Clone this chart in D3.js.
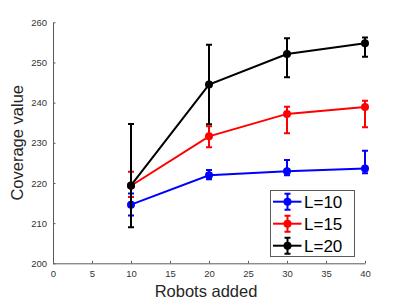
<!DOCTYPE html>
<html>
<head>
<meta charset="utf-8">
<script src="https://cdn.jsdelivr.net/npm/d3@7"></script>
<style>
  body { margin: 0; background: #fff; }
  svg { display: block; font-family: "Liberation Sans", Arial, sans-serif; }
</style>
</head>
<body>
<svg id="chart" width="403" height="302"></svg>
<script>
const robots = [10, 20, 30, 40];
const xTicks = [0, 5, 10, 15, 20, 25, 30, 35, 40];
const yTicks = [200, 210, 220, 230, 240, 250, 260];

const seriesNames = ["L=10", "L=15", "L=20"];
const seriesColors = ["#0000ff", "#ff0000", "#000000"];

// mean, lower end and upper end of each error bar
const meanL10 = [214.6, 221.9, 222.9, 223.6];
const lowL10 = [211.9, 220.9, 221.9, 222.4];
const highL10 = [217.4, 223.2, 225.7, 228.0];

const meanL15 = [219.3, 231.6, 237.2, 238.9];
const lowL15 = [216.5, 228.9, 232.4, 233.9];
const highL15 = [222.8, 234.1, 239.0, 240.5];

const meanL20 = [219.4, 244.5, 252.1, 254.8];
const lowL20 = [209.0, 234.6, 246.3, 251.4];
const highL20 = [234.7, 254.4, 256.0, 256.2];

const series = [
  { mean: meanL10, low: lowL10, high: highL10 },
  { mean: meanL15, low: lowL15, high: highL15 },
  { mean: meanL20, low: lowL20, high: highL20 }
].map((s, i) => ({
  name: seriesNames[i],
  color: seriesColors[i],
  points: robots.map((r, j) => ({ x: r, y: s.mean[j], lo: s.low[j], hi: s.high[j] }))
}));

const svg = d3.select("#chart");
const margin = { top: 22.3, right: 38, bottom: 38.7, left: 53 };
const width = 403, height = 302;

const x = d3.scaleLinear().domain([0, 40]).range([margin.left, width - margin.right]);
const y = d3.scaleLinear().domain([200, 260]).range([height - margin.bottom, margin.top]);

const axisColor = "#5a5a5a";

const gx = svg.append("g")
  .attr("transform", `translate(0,${y(200)})`)
  .call(d3.axisBottom(x).tickValues(xTicks).tickSizeInner(-2.5).tickSizeOuter(0).tickPadding(7));
const gy = svg.append("g")
  .attr("transform", `translate(${x(0)},0)`)
  .call(d3.axisLeft(y).tickValues(yTicks).tickSizeInner(-2.5).tickSizeOuter(0).tickPadding(6));

[gx, gy].forEach((g) => {
  g.select(".domain").attr("stroke", axisColor).attr("stroke-width", 1);
  g.selectAll(".tick line").attr("stroke", axisColor);
  g.selectAll(".tick text").attr("fill", "#333").style("font-size", "9.5px");
});

svg.append("text")
  .attr("x", 206)
  .attr("y", 297)
  .attr("text-anchor", "middle")
  .attr("fill", "#262626")
  .style("font-size", "16.5px")
  .text("Robots added");

svg.append("text")
  .attr("transform", `translate(23,${(y(200) + y(260)) / 2}) rotate(-90)`)
  .attr("text-anchor", "middle")
  .attr("fill", "#262626")
  .style("font-size", "16.5px")
  .text("Coverage value");

const line = d3.line().x((d) => x(d.x)).y((d) => y(d.y));
const cap = 3;

series.forEach((s) => {
  const g = svg.append("g");
  g.append("path")
    .datum(s.points)
    .attr("fill", "none")
    .attr("stroke", s.color)
    .attr("stroke-width", 2)
    .attr("d", line);

  g.selectAll(".err")
    .data(s.points)
    .join("path")
    .attr("fill", "none")
    .attr("stroke", s.color)
    .attr("stroke-width", 2)
    .attr("d", (d) => {
      const cx = x(d.x), t = y(d.hi), b = y(d.lo);
      return `M${cx},${t}V${b}M${cx - cap},${t}H${cx + cap}M${cx - cap},${b}H${cx + cap}`;
    });

  g.selectAll("circle")
    .data(s.points)
    .join("circle")
    .attr("cx", (d) => x(d.x))
    .attr("cy", (d) => y(d.y))
    .attr("r", 4)
    .attr("fill", s.color);
});

// legend
const legend = svg.append("g").attr("transform", "translate(270.5,190.5)");
legend.append("rect")
  .attr("width", 84)
  .attr("height", 66)
  .attr("fill", "#fff")
  .attr("stroke", "#5a5a5a")
  .attr("stroke-width", 1);

series.forEach((s, i) => {
  const row = legend.append("g").attr("transform", `translate(0,${11.2 + i * 22})`);
  row.append("line").attr("x1", 2.5).attr("x2", 31).attr("stroke", s.color).attr("stroke-width", 2);
  row.append("path")
    .attr("fill", "none")
    .attr("stroke", s.color)
    .attr("stroke-width", 2)
    .attr("d", `M17,-8V8M${17 - cap},-8H${17 + cap}M${17 - cap},8H${17 + cap}`);
  row.append("circle").attr("cx", 17).attr("cy", 0).attr("r", 4).attr("fill", s.color);
  row.append("text")
    .attr("x", 33.5)
    .attr("y", 0)
    .attr("dy", "0.36em")
    .attr("fill", "#000")
    .style("font-size", "17px")
    .text(s.name);
});
</script>
</body>
</html>
